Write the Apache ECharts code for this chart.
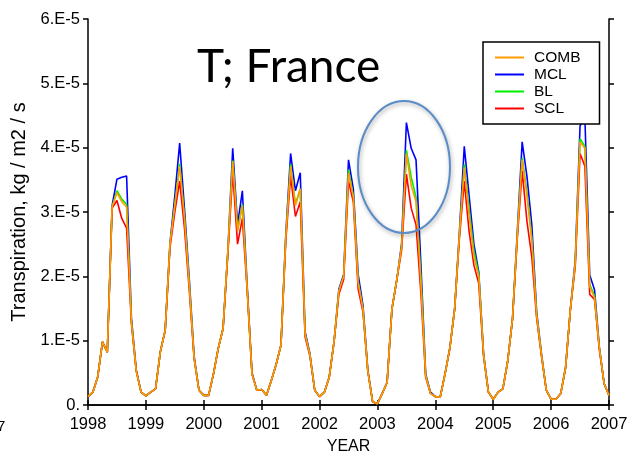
<!DOCTYPE html>
<html>
<head>
<meta charset="utf-8">
<script src="https://cdn.jsdelivr.net/npm/echarts@6/dist/echarts.min.js"></script>
<style>
html,body{margin:0;padding:0;background:#fff;}
#chart{width:631px;height:460px;}
</style>
</head>
<body>
<div id="chart"></div>
<script>
// Values in units of 1E-5 kg / m2 / s, monthly from Jan 1998 to Jan 2007
const startYear = 1998;
const xTickYears = [1998,1999,2000,2001,2002,2003,2004,2005,2006,2007];
const yTickLabels = ['0.','1.E-5','2.E-5','3.E-5','4.E-5','5.E-5','6.E-5'];
const seriesNames = ['COMB','MCL','BL','SCL'];

const COMB = [
 0.13,0.20,0.43,0.98,0.82,3.08,3.30,3.16,3.08,1.29,0.53,0.20,
 0.14,0.20,0.25,0.83,1.16,2.50,3.10,3.71,2.90,1.85,0.73,0.23,
 0.15,0.15,0.48,0.88,1.19,2.40,3.79,2.70,3.10,1.80,0.48,0.23,
 0.24,0.15,0.38,0.63,0.93,2.60,3.71,3.10,3.36,1.10,0.78,0.23,
 0.13,0.20,0.43,0.98,1.77,2.00,3.61,3.23,1.90,1.49,0.53,0.05,
 0.02,0.18,0.35,1.49,1.94,2.45,3.91,3.41,3.16,1.90,0.45,0.18,
 0.13,0.12,0.48,0.88,1.49,2.65,3.69,2.95,2.30,2.00,0.78,0.20,
 0.09,0.20,0.25,0.68,1.34,2.65,3.81,3.25,2.55,1.39,0.78,0.23,
 0.09,0.09,0.18,0.58,1.49,2.20,4.09,3.99,1.84,1.67,0.88,0.33,
 0.15];
const MCL = [
 0.13,0.20,0.43,0.98,0.82,3.10,3.51,3.54,3.56,1.35,0.55,0.20,
 0.14,0.20,0.25,0.83,1.16,2.52,3.25,4.07,3.05,1.95,0.76,0.23,
 0.15,0.15,0.48,0.88,1.19,2.40,3.99,2.80,3.33,1.85,0.50,0.23,
 0.24,0.15,0.38,0.63,0.93,2.65,3.91,3.33,3.61,1.14,0.80,0.23,
 0.13,0.20,0.43,0.98,1.80,2.03,3.81,3.36,2.03,1.55,0.55,0.05,
 0.02,0.18,0.35,1.49,1.94,2.50,4.39,3.99,3.81,2.20,0.48,0.20,
 0.13,0.12,0.48,0.88,1.49,2.70,4.02,3.26,2.50,2.07,0.80,0.20,
 0.09,0.20,0.25,0.68,1.34,2.70,4.09,3.55,2.80,1.45,0.80,0.23,
 0.09,0.09,0.18,0.58,1.49,2.25,4.34,4.47,2.02,1.79,0.90,0.33,
 0.15];
const BL = [
 0.13,0.20,0.43,0.98,0.82,3.08,3.33,3.20,3.12,1.29,0.53,0.20,
 0.14,0.20,0.25,0.83,1.16,2.50,3.12,3.75,2.92,1.87,0.73,0.23,
 0.15,0.15,0.48,0.88,1.19,2.40,3.80,2.72,3.12,1.80,0.48,0.23,
 0.24,0.15,0.38,0.63,0.93,2.60,3.74,3.12,3.36,1.10,0.78,0.23,
 0.13,0.20,0.43,0.98,1.77,2.00,3.66,3.25,1.92,1.49,0.53,0.05,
 0.02,0.18,0.35,1.49,1.94,2.45,3.96,3.54,3.23,2.00,0.46,0.18,
 0.13,0.12,0.48,0.88,1.49,2.65,3.74,3.05,2.40,2.03,0.78,0.20,
 0.09,0.20,0.25,0.68,1.34,2.65,3.84,3.30,2.60,1.40,0.78,0.23,
 0.09,0.09,0.18,0.58,1.49,2.20,4.14,4.02,1.87,1.70,0.88,0.33,
 0.15];
const SCL = [
 0.13,0.20,0.43,0.98,0.82,3.06,3.18,2.90,2.75,1.27,0.53,0.20,
 0.14,0.20,0.25,0.83,1.16,2.45,3.00,3.48,2.75,1.78,0.72,0.23,
 0.15,0.15,0.48,0.88,1.19,2.35,3.62,2.50,2.90,1.78,0.48,0.23,
 0.24,0.15,0.38,0.63,0.93,2.55,3.56,2.93,3.16,1.06,0.76,0.23,
 0.13,0.20,0.43,0.98,1.72,1.95,3.48,3.16,1.80,1.45,0.53,0.05,
 0.02,0.18,0.35,1.49,1.94,2.40,3.59,3.06,2.80,1.75,0.43,0.18,
 0.13,0.12,0.48,0.88,1.49,2.60,3.48,2.70,2.17,1.89,0.76,0.20,
 0.09,0.20,0.25,0.68,1.34,2.60,3.64,2.85,2.30,1.35,0.76,0.23,
 0.09,0.09,0.18,0.58,1.49,2.15,3.91,3.71,1.72,1.64,0.86,0.33,
 0.15];

const colors = {COMB:'#ff9d00', MCL:'#0000ff', BL:'#00ee00', SCL:'#ff0000'};
const valuesByName = {COMB, MCL, BL, SCL};

function toPairs(arr){ return arr.map((v,i)=>[startYear + i/12, v]); }

const chart = echarts.init(document.getElementById('chart'), null, {renderer:'canvas'});
const axisLine = {show:true, lineStyle:{color:'#000', width:1.5}};
const font = 'Liberation Sans, Arial, Helvetica, sans-serif';
const drawOrder = ['MCL','BL','SCL','COMB'];

chart.setOption({
  animation:false,
  backgroundColor:'#fff',
  grid:{left:88, right:22, top:19, bottom:44, containLabel:false},
  legend:{
    data: seriesNames,
    orient:'vertical',
    left:483, top:42,
    padding:[7,19,7,12],
    itemGap:0,
    itemWidth:29, itemHeight:2,
    icon:'rect',
    borderColor:'#000', borderWidth:1.5,
    backgroundColor:'#fff',
    textStyle:{fontFamily:font, fontSize:15.5, color:'#000', lineHeight:17, padding:[0,0,0,5]}
  },
  xAxis:[{
    type:'value', min:1998, max:2007, interval:1, position:'bottom',
    axisLine, axisTick:{show:true, inside:false, length:5, lineStyle:{color:'#000', width:1.5}},
    axisLabel:{show:true, margin:11, fontFamily:font, fontSize:16.5, color:'#000',
      formatter:v=>String(xTickYears[Math.round(v-1998)])},
    splitLine:{show:false},
    name:'YEAR', nameLocation:'middle', nameGap:34,
    nameTextStyle:{fontFamily:font, fontSize:16, color:'#000'}
  },{
    type:'value', min:1998, max:2007, interval:1, position:'top',
    axisLine, axisTick:{show:true, inside:false, length:5, lineStyle:{color:'#000', width:1.5}},
    axisLabel:{show:false}, splitLine:{show:false}
  }],
  yAxis:[{
    type:'value', min:0, max:6, interval:1, position:'left',
    axisLine, axisTick:{show:true, inside:false, length:5, lineStyle:{color:'#000', width:1.5}},
    axisLabel:{show:true, margin:8, fontFamily:font, fontSize:16.5, color:'#000',
      formatter:v=>yTickLabels[Math.round(v)]},
    splitLine:{show:false},
    name:'Transpiration, kg / m2 / s', nameLocation:'middle', nameGap:58,
    nameTextStyle:{fontFamily:font, fontSize:20, color:'#000'}
  },{
    type:'value', min:0, max:6, interval:1, position:'right',
    axisLine, axisTick:{show:true, inside:false, length:5, lineStyle:{color:'#000', width:1.5}},
    axisLabel:{show:false}, splitLine:{show:false}
  }],
  series: drawOrder.map(n=>({
    name:n, type:'line', data:toPairs(valuesByName[n]),
    xAxisIndex:0, yAxisIndex:0,
    showSymbol:false, symbol:'none',
    lineStyle:{color:colors[n], width:1.6},
    itemStyle:{color:colors[n]},
    emphasis:{disabled:true}
  })),
  graphic:[
    {type:'text', left:197, top:44, z:100,
      style:{text:'T; France', font:'46px Lato, "Open Sans", sans-serif', fill:'#000'}},
    {type:'ellipse', z:100, shape:{cx:404, cy:167, rx:46, ry:66},
      style:{fill:'none', stroke:'#5a8cc8', lineWidth:2,
        shadowBlur:4, shadowColor:'rgba(0,0,0,0.35)', shadowOffsetX:1, shadowOffsetY:2}},
    {type:'text', left:-3, top:419, z:100,
      style:{text:'7', font:'15px '+font, fill:'#000'}}
  ]
});
</script>
</body>
</html>
